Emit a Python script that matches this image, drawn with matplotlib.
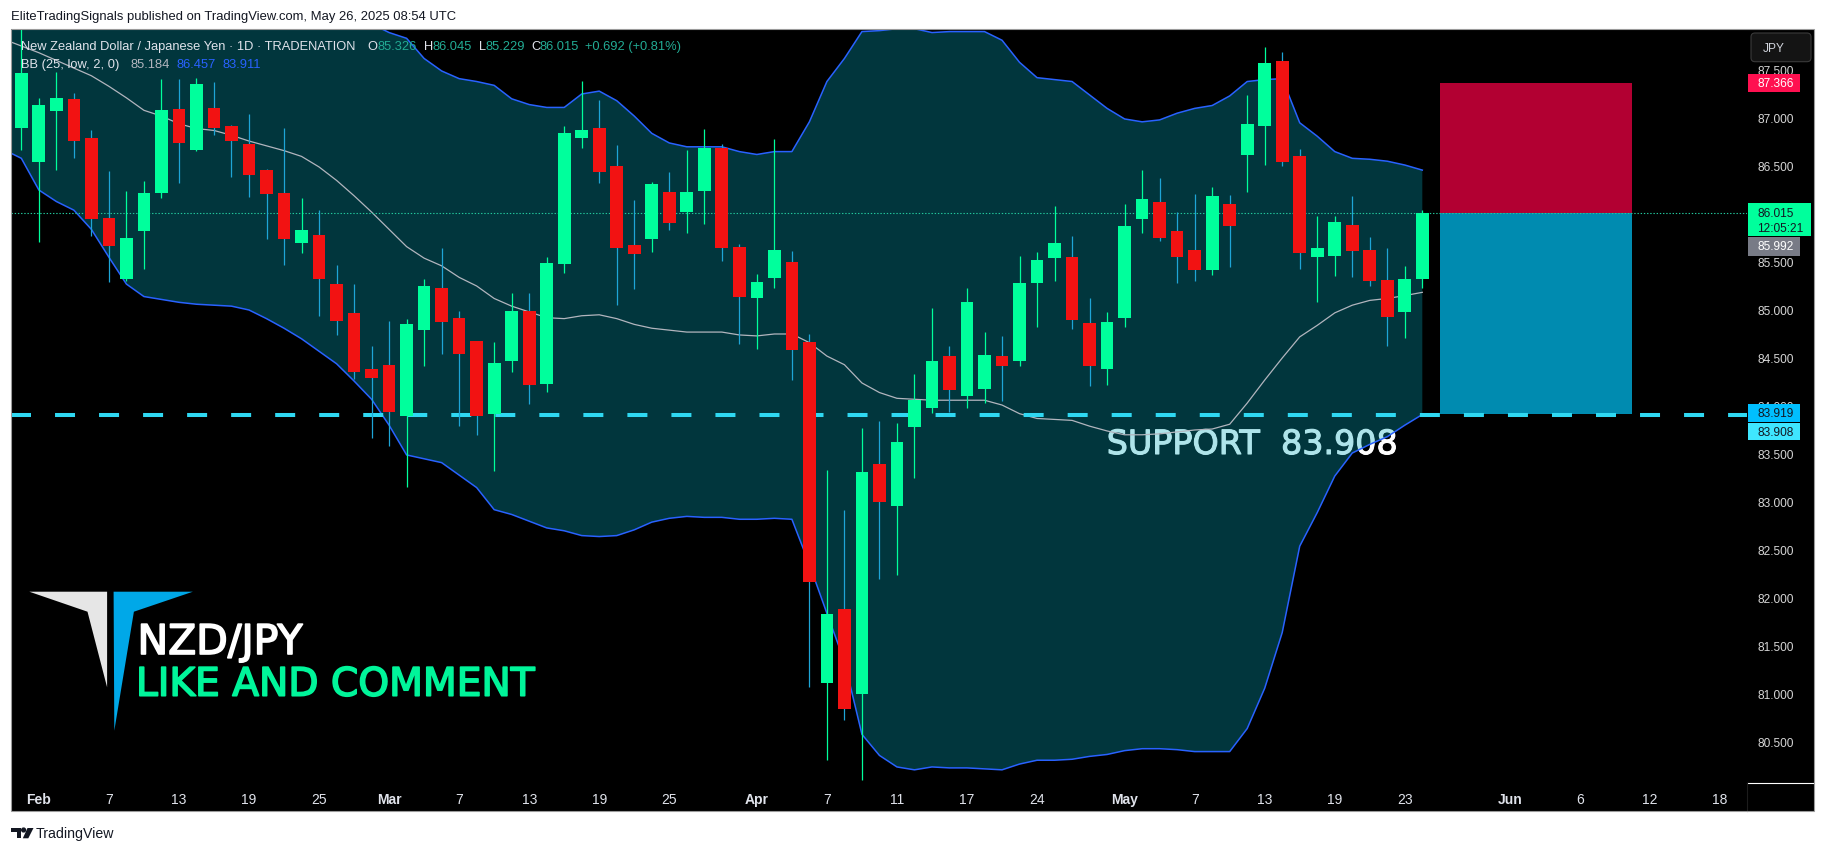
import numpy as np
import pandas as pd
import matplotlib
matplotlib.use("Agg")
import matplotlib.pyplot as plt
import matplotlib.patheffects as pe
from matplotlib.patches import Rectangle, Polygon, FancyBboxPatch
from matplotlib.lines import Line2D

plt.rcParams["lines.scale_dashes"] = False

W, H = 1826, 853

# NZD/JPY 1D candles, 2025-01-31 .. 2025-05-26 (TRADENATION)
opens = [86.90, 86.54, 87.07, 87.20, 86.79, 85.96, 85.32, 85.82, 86.22, 87.09,
         86.67, 87.10, 86.92, 86.73, 86.46, 86.22, 85.70, 85.78, 85.27, 84.97,
         84.39, 84.43, 83.90, 84.79, 85.23, 84.92, 84.68, 83.92, 84.47, 84.99,
         84.23, 85.48, 86.79, 86.90, 86.50, 85.68, 85.74, 86.23, 86.02, 86.24,
         86.69, 85.66, 85.12, 85.33, 85.50, 84.67, 81.11, 81.89, 81.00, 83.40,
         82.96, 83.78, 83.98, 84.52, 84.10, 84.18, 84.52, 84.47, 85.28, 85.54,
         85.55, 84.86, 84.39, 84.92, 85.95, 86.12, 85.82, 85.63, 85.42, 86.10,
         86.61, 86.92, 87.59, 86.60, 85.55, 85.56, 85.89, 85.62, 85.31, 84.98,
         85.326]
highs = [87.98, 87.21, 87.48, 87.26, 86.88, 86.45, 86.24, 86.34, 87.41, 87.41,
         87.42, 87.37, 86.93, 87.04, 86.47, 86.90, 86.17, 86.04, 85.47, 85.27,
         84.62, 84.89, 84.91, 85.32, 85.65, 84.99, 84.68, 84.67, 85.18, 85.18,
         85.55, 86.92, 87.39, 87.19, 86.72, 86.15, 86.33, 86.44, 86.67, 86.89,
         86.73, 85.69, 85.37, 86.78, 85.61, 84.75, 83.33, 82.92, 83.77, 83.84,
         83.82, 84.33, 85.02, 84.63, 85.23, 84.77, 84.73, 85.56, 85.60, 86.08,
         85.77, 85.12, 84.98, 86.10, 86.46, 86.37, 86.02, 86.21, 86.28, 86.20,
         87.24, 87.74, 87.69, 86.68, 85.98, 85.98, 86.19, 85.76, 85.65, 85.46,
         86.045]
lows = [86.67, 85.71, 86.46, 86.58, 85.77, 85.29, 85.30, 85.43, 86.17, 86.32,
        86.66, 86.82, 86.39, 86.18, 85.74, 85.47, 85.59, 84.94, 84.74, 84.28,
        83.67, 83.58, 83.16, 84.42, 84.54, 83.79, 83.70, 83.32, 84.35, 84.02,
        84.15, 85.39, 86.69, 86.32, 85.05, 85.22, 85.60, 85.83, 85.80, 85.90,
        85.51, 84.65, 84.59, 85.23, 84.27, 81.07, 80.31, 80.73, 80.10, 82.20,
        82.24, 83.25, 83.93, 83.94, 83.98, 84.03, 84.05, 84.42, 84.82, 85.30,
        84.80, 84.21, 84.22, 84.82, 85.80, 85.72, 85.28, 85.30, 85.36, 85.45,
        86.23, 86.51, 86.50, 85.43, 85.08, 85.35, 85.34, 85.25, 84.62, 84.71,
        85.229]
closes = [87.47, 87.14, 87.21, 86.76, 85.95, 85.67, 85.75, 86.22, 87.08, 86.74,
          87.35, 86.90, 86.76, 86.41, 86.21, 85.74, 85.83, 85.32, 84.89, 84.35,
          84.29, 83.94, 84.85, 85.25, 84.87, 84.54, 83.90, 84.45, 84.99, 84.22,
          85.49, 86.84, 86.88, 86.44, 85.65, 85.58, 86.31, 85.91, 86.23, 86.69,
          85.65, 85.14, 85.29, 85.62, 84.58, 82.17, 81.83, 80.84, 83.31, 83.00,
          83.62, 84.06, 84.47, 84.17, 85.08, 84.53, 84.42, 85.28, 85.52, 85.70,
          84.90, 84.42, 84.87, 85.88, 86.16, 85.75, 85.55, 85.42, 86.19, 85.88,
          86.94, 87.57, 86.54, 85.59, 85.65, 85.92, 85.61, 85.30, 84.93, 85.323,
          86.015]

# BB (25, low, 2, 0), starts one bar before the first visible candle
bb_mid = [87.82, 87.75, 87.68, 87.60, 87.52, 87.44, 87.33, 87.21, 87.08, 87.02,
          86.94, 86.89, 86.87, 86.82, 86.76, 86.71, 86.66, 86.60, 86.49, 86.35,
          86.19, 86.02, 85.84, 85.66, 85.54, 85.46, 85.34, 85.25, 85.12, 85.04,
          84.98, 84.92, 84.91, 84.94, 84.95, 84.91, 84.85, 84.81, 84.79, 84.77,
          84.77, 84.77, 84.74, 84.73, 84.75, 84.75, 84.66, 84.52, 84.43, 84.24,
          84.14, 84.08, 84.07, 84.06, 84.06, 84.06, 84.06, 84.01, 83.92, 83.87,
          83.86, 83.85, 83.79, 83.74, 83.70, 83.70, 83.71, 83.73, 83.75, 83.76,
          83.81, 84.03, 84.27, 84.50, 84.72, 84.84, 84.97, 85.05, 85.10, 85.12,
          85.15, 85.184]
bb_upper = [88.97, 88.91, 89.10, 89.06, 88.99, 89.04, 89.11, 89.14, 89.02, 88.93,
            88.79, 88.71, 88.70, 88.59, 88.51, 88.51, 88.51, 88.50, 88.42, 88.26,
            88.12, 87.98, 87.89, 87.83, 87.62, 87.49, 87.41, 87.38, 87.34, 87.20,
            87.14, 87.11, 87.11, 87.25, 87.28, 87.18, 87.02, 86.84, 86.74, 86.70,
            86.70, 86.70, 86.65, 86.62, 86.65, 86.65, 86.96, 87.38, 87.62, 87.90,
            87.91, 87.93, 87.93, 87.89, 87.90, 87.90, 87.90, 87.81, 87.58, 87.42,
            87.40, 87.38, 87.24, 87.10, 86.99, 86.96, 86.98, 87.05, 87.10, 87.13,
            87.23, 87.38, 87.40, 87.41, 86.95, 86.81, 86.65, 86.58, 86.57, 86.55,
            86.51, 86.457]
bb_lower = [86.67, 86.58, 86.25, 86.13, 86.04, 85.84, 85.55, 85.27, 85.14, 85.11,
            85.08, 85.06, 85.05, 85.04, 85.00, 84.91, 84.81, 84.70, 84.57, 84.44,
            84.26, 84.07, 83.80, 83.49, 83.45, 83.41, 83.28, 83.15, 82.92, 82.87,
            82.80, 82.73, 82.70, 82.65, 82.64, 82.65, 82.71, 82.79, 82.83, 82.85,
            82.84, 82.84, 82.82, 82.82, 82.83, 82.82, 82.35, 81.84, 81.34, 80.58,
            80.36, 80.24, 80.21, 80.24, 80.23, 80.23, 80.22, 80.21, 80.27, 80.31,
            80.31, 80.32, 80.35, 80.37, 80.41, 80.43, 80.43, 80.42, 80.40, 80.40,
            80.40, 80.64, 81.06, 81.64, 82.54, 82.89, 83.27, 83.51, 83.60, 83.68,
            83.80, 83.911]

support = 83.908
entry = 86.015
stop = 87.366
target = 83.919
grey_level = 85.992
countdown = "12:05:21"
pos_start, pos_end = "2025-05-27", "2025-06-11"

price_ticks = [80.5, 81.0, 81.5, 82.0, 82.5, 83.0, 83.5, 84.0, 84.5, 85.0,
               85.5, 86.0, 86.5, 87.0, 87.5]
tick_dates = ["2025-02-03", "2025-02-07", "2025-02-13", "2025-02-19", "2025-02-25",
              "2025-03-03", "2025-03-07", "2025-03-13", "2025-03-19", "2025-03-25",
              "2025-04-01", "2025-04-07", "2025-04-11", "2025-04-17", "2025-04-24",
              "2025-05-01", "2025-05-07", "2025-05-13", "2025-05-19", "2025-05-23",
              "2025-06-02", "2025-06-06", "2025-06-12", "2025-06-18"]
tick_labels = ["Feb", "7", "13", "19", "25", "Mar", "7", "13", "19", "25",
               "Apr", "7", "11", "17", "24", "May", "7", "13", "19", "23",
               "Jun", "6", "12", "18"]
months = ["Feb", "Mar", "Apr", "May", "Jun"]

# trading calendar (Good Friday missing on this feed)
holiday = pd.Timestamp("2025-04-18")
days = pd.bdate_range("2025-01-30", "2025-06-30")
days = days[days != holiday]
cdays = pd.bdate_range("2025-01-31", "2025-05-26")
cdays = cdays[cdays != holiday]
bdays = pd.bdate_range("2025-01-30", "2025-05-26")
bdays = bdays[bdays != holiday]
cx = days.get_indexer(cdays)
bx = days.get_indexer(bdays)

o, h, l, c = map(np.array, (opens, highs, lows, closes))

UP = "#00ff9c"
DOWN = "#f21212"
DOWN_WICK = "#1ea5d6"

fig = plt.figure(figsize=(W / 100, H / 100), dpi=100, facecolor="white")
pix = fig.dpi_scale_trans


def P(x, y):
    return x / 100, (H - y) / 100


def box(x0, y0, x1, y1, **kw):
    r = Rectangle(P(x0, y1), (x1 - x0) / 100, (y1 - y0) / 100, transform=pix, **kw)
    fig.add_artist(r)
    return r


def label(x, y, s, **kw):
    kw.setdefault("family", "Liberation Sans")
    return fig.text(x / W, 1 - y / H, s, **kw)


# black chart panel
box(11, 30, 1814, 812, facecolor="black", edgecolor="none", zorder=-1)

ytop, ybot = 87.927, 80.078
ax = fig.add_axes([11 / W, 1 - 783.5 / H, (1747 - 11) / W, (783.5 - 30) / H])
ax.set_facecolor("black")
for s in ax.spines.values():
    s.set_visible(False)
ax.set_xlim(0.41, 99.54)
ax.set_ylim(ybot, ytop)
ppx = (ytop - ybot) / 753.5


def ypx(p):
    return 30 + (ytop - p) / ppx


# support text sits under the band fill
ax.text(62.98, support - 0.408, f"SUPPORT  {support:.3f}", color="white",
        fontsize=24, family="DejaVu Sans", ha="left", va="baseline", zorder=0.5,
        path_effects=[pe.withStroke(linewidth=0.8, foreground="white")])

# bollinger band
ax.fill_between(bx, bb_lower, bb_upper, color=(0.02, 0.67, 0.75), alpha=0.32, lw=0, zorder=1)
ax.plot(bx, bb_upper, color="#2962ff", lw=1.1, zorder=2)
ax.plot(bx, bb_lower, color="#2962ff", lw=1.1, zorder=2)
ax.plot(bx, bb_mid, color="#b2b5be", lw=0.9, zorder=2)

# short position tool
p0, p1 = days.get_indexer(pd.to_datetime([pos_start, pos_end]))
ax.add_patch(Rectangle((p0, entry), p1 - p0, stop - entry, facecolor="#b20032", edgecolor="none", zorder=2))
ax.add_patch(Rectangle((p0, target), p1 - p0, entry - target, facecolor="#008bb0", edgecolor="none", zorder=2))

ax.axhline(support, color="#2fd8f2", lw=2.9, dashes=(14.4, 17.3), zorder=2.5)
ax.axhline(entry, color="#22c79c", lw=0.8, dashes=(1.0, 1.3), zorder=2.5)

# candles
up = c >= o
ax.vlines(cx, l, h, colors=np.where(up, UP, DOWN_WICK), lw=0.9, zorder=3)
ax.bar(cx, np.abs(c - o), bottom=np.minimum(o, c), width=0.725,
       color=np.where(up, UP, DOWN), linewidth=0, zorder=4)

# axes labels
ax.set_xticks(days.get_indexer(pd.to_datetime(tick_dates)))
ax.set_xticklabels(tick_labels)
ax.tick_params(axis="x", length=0, pad=6.6, labelsize=10, labelcolor="#e0e3eb")
for t in ax.get_xticklabels():
    t.set_family(["Liberation Sans Narrow", "Liberation Sans"])
    if t.get_text() in months:
        t.set_fontweight("bold")
ax.yaxis.tick_right()
ax.set_yticks(price_ticks)
ax.set_yticklabels([f"{v:.3f}" for v in price_ticks])
ax.tick_params(axis="y", length=0, pad=7.6, labelsize=8.6, labelcolor="#d6d6d6")
for t in ax.get_yticklabels():
    t.set_family("Liberation Sans")

# price tags on the scale
tag_kw = dict(fontsize=8.6, va="center", ha="left", zorder=8)
yr = ypx(stop)
box(1748, yr - 9.2, 1800, yr + 9.2, facecolor="#ff1050", edgecolor="none", zorder=7)
label(1757.5, yr, f"{stop:.3f}", color="white", **tag_kw)

yg = ypx(entry)
box(1748, yg - 9.6, 1811, yg + 23.1, facecolor=UP, edgecolor="none", zorder=7)
label(1757.5, yg, f"{entry:.3f}", color="#131722", **tag_kw)
label(1757.5, yg + 15.5, countdown, color="#131722", **tag_kw)

yq = yg + 23.1 + 1.3
box(1748, yq, 1800, yq + 18.7, facecolor="#787b86", edgecolor="none", zorder=7)
label(1757.5, yq + 9.35, f"{grey_level:.3f}", color="white", **tag_kw)

yb = ypx(target) - 0.9
box(1748, yb - 8.9, 1800, yb + 8.9, facecolor="#00bfff", edgecolor="none", zorder=7)
label(1757.5, yb, f"{target:.3f}", color="#131722", **tag_kw)
yc = yb + 8.9 + 1.3
box(1748, yc, 1800, yc + 17.2, facecolor="#3fe6ff", edgecolor="none", zorder=7)
label(1757.5, yc + 8.6, f"{support:.3f}", color="#131722", **tag_kw)

# currency button
fig.add_artist(FancyBboxPatch(P(1751, 62.7), 0.60, 0.287, boxstyle="round,pad=0,rounding_size=0.04",
                              transform=pix, facecolor="#141414", edgecolor="#3a3a3a", lw=0.8, zorder=6))
label(1763, 48.5, "JPY", color="#d1d4dc", fontsize=8.6, va="center", zorder=8)

fig.add_artist(Line2D([17.47, 18.14], [(H - 783.5) / 100] * 2, transform=pix, color="white", lw=0.8, zorder=9))
fig.add_artist(Line2D([17.47, 17.47], [(H - 812) / 100, (H - 783.5) / 100], transform=pix,
                      color="#1c1c1c", lw=0.8, zorder=9))

# legend lines
hk = dict(fontsize=9.3, va="center")
label(21.4, 46.7, "New Zealand Dollar / Japanese Yen \u00b7 1D \u00b7 TRADENATION", color="#e0e3eb", **hk)
teal = "#22ab94"
for x, letter, val, xv in [(367, "O", opens[-1], 377), (424, "H", highs[-1], 432),
                           (478.6, "L", lows[-1], 485), (531, "C", closes[-1], 539)]:
    label(x, 46.7, letter, color="#e0e3eb", **hk)
    label(xv, 46.7, f"{val:.3f}", color=teal, **hk)
chg = closes[-1] - closes[-2]
label(585, 46.7, f"{chg:+.3f} ({chg / closes[-2] * 100:+.2f}%)", color=teal, **hk)
label(21.4, 65.3, "BB (25, low, 2, 0)", color="#e0e3eb", **hk)
label(130.4, 65.3, f"{bb_mid[-1]:.3f}", color="#b2b5be", **hk)
label(176.3, 65.3, f"{bb_upper[-1]:.3f}", color="#2962ff", **hk)
label(222.3, 65.3, f"{bb_lower[-1]:.3f}", color="#2962ff", **hk)

# watermark logo
fig.add_artist(Polygon([P(29.3, 592.7), P(107.1, 592.7), P(107.1, 688.3), P(87.5, 612.7)],
                       closed=True, transform=pix, facecolor="#e6e6e6", edgecolor="none", zorder=5))
fig.add_artist(Polygon([P(113.6, 592.7), P(192.9, 592.7), P(133.9, 612.7), P(114.3, 731.7)],
                       closed=True, transform=pix, facecolor="#00a8e8", edgecolor="none", zorder=5))
label(137.5, 655, "NZD/JPY", color="white", fontsize=29.5, family="DejaVu Sans", va="baseline", zorder=6,
      path_effects=[pe.withStroke(linewidth=1.2, foreground="white")])
label(136, 696.7, "LIKE AND COMMENT", color="#00f59a", fontsize=28.2, family="DejaVu Sans",
      va="baseline", zorder=6, path_effects=[pe.withStroke(linewidth=1.2, foreground="#00f59a")])

# page title and footer
label(11, 16.7, "EliteTradingSignals published on TradingView.com, May 26, 2025 08:54 UTC",
      color="#131722", fontsize=9.4, va="center")
dark = "#131722"
fig.add_artist(Polygon([P(10.6, 829), P(21, 829), P(21, 839.3), P(16.6, 839.3), P(16.6, 833), P(10.6, 833)],
                       closed=True, transform=pix, facecolor=dark, edgecolor="none"))
fig.add_artist(Polygon([P(27.5, 829), P(33.5, 829), P(28.3, 839.3), P(22.8, 839.3)],
                       closed=True, transform=pix, facecolor=dark, edgecolor="none"))
fig.add_artist(plt.Circle(P(23.6, 831), 0.019, transform=pix, color=dark))
label(36, 834.3, "TradingView", color=dark, fontsize=10.2, va="center")

# panel frame
box(11, 30, 1814, 812, facecolor="none", edgecolor="#9b9b9b", lw=0.8, zorder=20)

fig.savefig("out.png", dpi=100, facecolor="white")
